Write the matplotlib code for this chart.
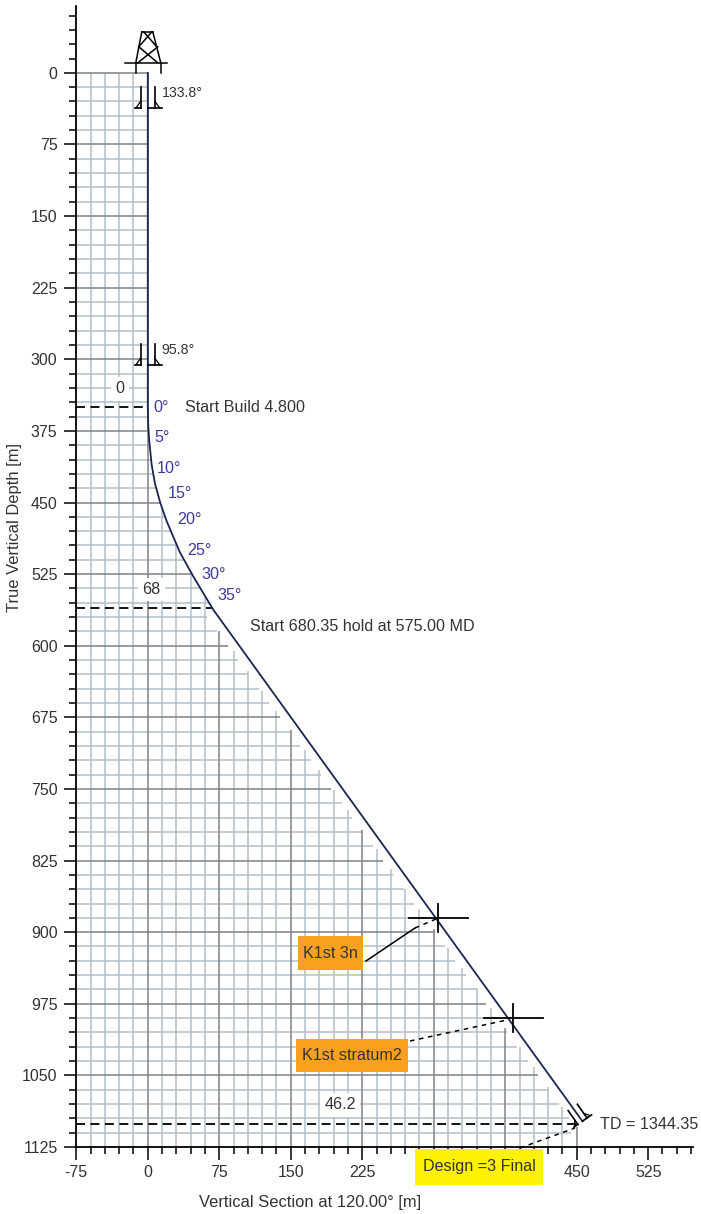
import numpy as np
import matplotlib
matplotlib.use('Agg')
import matplotlib.pyplot as plt
from matplotlib.patches import Rectangle
from matplotlib.transforms import Affine2D

plt.rcParams['font.family'] = ['Liberation Sans', 'DejaVu Sans']
plt.rcParams['axes.unicode_minus'] = False

# well path
path_x = [0, 0, 0.5, 1.5, 4, 7.5, 13, 19.6, 33.6, 47.5, 68.5, 456]
path_y = [0, 350, 370, 385, 410, 430, 450, 469, 502, 527, 562, 1098]

angle_labels = ['0°', '5°', '10°', '15°', '20°', '25°', '30°', '35°']
angle_x = [6, 7, 9, 21, 31, 41, 56, 73]
angle_y = [350, 382, 414, 441, 468, 500, 525, 547]

dash_y = [350, 560, 1101]
dash_x = [0, 68, 450]

casing_y = [37, 306]
casing_labels = ['133.8°', '95.8°']

target_x = [305, 383]
target_y = [885, 990]

x_major = [-75, 0, 75, 150, 225, 300, 375, 450, 525]
# 300 and 375 sit under the yellow label in the picture
x_labels = ['-75', '0', '75', '150', '225', '', '', '450', '525']
y_major = [0, 75, 150, 225, 300, 375, 450, 525, 600, 675, 750, 825, 900, 975, 1050, 1125]

TXT = '#333333'
MINOR = '#b4bec8'
MAJOR = '#7d8388'
NAVY = '#1c2550'
FS = 11.6
W, H = 701, 1214

fig = plt.figure(figsize=(W / 100, H / 100), dpi=100)
ax = fig.add_axes([76.3 / W, 1 - 1147 / H, (692.5 - 76.3) / W, (1147 - 6) / H])
ax.set_xlim(-75, 571.5)
ax.set_ylim(1125, -70)

# pixel space of the image, y going down
page = Affine2D().scale(1, -1).translate(0, H)


def offset_at(x, y, angle=0, scale=1.0):
    # pixels around a data point, y going down
    px, py = ax.transData.transform((x, y))
    return Affine2D().scale(scale, -scale).rotate_deg(-angle).translate(px, py)


def grid_end_x(y):
    if y <= path_y[1]:
        return 0
    if y <= path_y[-2]:
        return np.interp(y, path_y, path_x)
    return np.interp(y, path_y, path_x) - 12


def grid_start_y(x):
    if x <= 0:
        return 0
    if x <= path_x[-2]:
        return np.interp(x, path_x[1:], path_y[1:])
    return np.interp(x, path_x[1:], path_y[1:]) + 14


# grid stops short of the well path below the build section
for gx in np.arange(-60, 451, 15):
    major = gx % 75 == 0
    ax.plot([gx, gx], [grid_start_y(gx), 1125], color=MAJOR if major else MINOR,
            lw=1.1, zorder=1.2 if major else 1, solid_capstyle='butt')
for gy in np.arange(0, 1125, 15):
    major = gy % 75 == 0
    ax.plot([-75, grid_end_x(gy)], [gy, gy], color=MAJOR if major else MINOR,
            lw=1.1, zorder=1.2 if major else 1, solid_capstyle='butt')

for dy, dx in zip(dash_y, dash_x):
    ax.plot([-75, dx], [dy, dy], color='black', lw=1.3, dashes=(5, 3), zorder=2)

ax.plot(path_x, path_y, color=NAVY, lw=1.3, zorder=3)

for lab, ax_, ay_ in zip(angle_labels, angle_x, angle_y):
    ax.text(ax_, ay_, lab, color='#3c3c9c', fontsize=FS, ha='left', va='center', zorder=4)


def casing(x, y, angle=0, scale=1.0):
    t = offset_at(x, y, angle, scale)
    for sx in (-1, 1):
        ax.plot([sx * 7, sx * 7], [-21, 0], color='black', lw=1.2, transform=t, clip_on=False, zorder=4)
        ax.plot([0 if sx == 1 else sx * 7, sx * 14 if sx == 1 else sx * 13], [0, 0], color='black', lw=1.2,
                transform=t, clip_on=False, zorder=4)
        ax.plot([sx * 7, sx * 12], [-7, 0], color='black', lw=0.9, transform=t, clip_on=False, zorder=4)


for cy, lab in zip(casing_y, casing_labels):
    casing(0, cy)
    ax.annotate(lab, (0, cy), xytext=(14, 15), textcoords='offset pixels', fontsize=10.2,
                color=TXT, ha='left', va='center')

casing(path_x[-1], path_y[-1], angle=-35, scale=0.8)

# rig symbol above the well head
rig = offset_at(0, 0)
rig_lines = [
    ([-23, 19], [-10, -10]), ([-12, -12], [-10, 0]), ([13, 13], [-10, 0]),
    ([-12, -6], [-10, -41]), ([13, 5], [-10, -41]), ([-6, 5], [-41, -41]),
    ([-10, 10], [-10, -26]), ([10, -9], [-10, -26]), ([-9, 4], [-26, -41]),
    ([9, -4], [-26, -41]),
]
for lx, ly in rig_lines:
    ax.plot(lx, ly, color='black', lw=1.1, transform=rig, clip_on=False, zorder=4)

for tx, ty in zip(target_x, target_y):
    t = offset_at(tx, ty)
    ax.plot([-29, 30], [0, 0], color='black', lw=1.3, transform=t, zorder=4, clip_on=False)
    ax.plot([0, 0], [-14, 14], color='black', lw=1.3, transform=t, zorder=4, clip_on=False)


def white_label(x, y, text):
    ax.text(x, y, text, fontsize=FS, color=TXT, ha='center', va='center', zorder=2.5,
            bbox=dict(facecolor='white', edgecolor='none', pad=3))


white_label(-29, 331, '0')
white_label(4, 541, '68')
white_label(202, 1081, '46.2')

ax.text(39, 350, 'Start Build 4.800', fontsize=FS, color=TXT, ha='left', va='center', zorder=4)
ax.text(107, 580, 'Start 680.35 hold at 575.00 MD', fontsize=FS, color=TXT, ha='left', va='center', zorder=4)
ax.text(474, 1101, 'TD = 1344.35', fontsize=FS, color=TXT, ha='left', va='center', zorder=4, clip_on=False)

# leaders from the highlighted labels
ax.plot([366, 415], [961, 928], color='black', lw=1.1, transform=page, zorder=4)
ax.plot([415, 436], [928, 919], color='black', lw=1.1, dashes=(3, 3), transform=page, zorder=4)
ax.plot([410, 507], [1041, 1020], color='black', lw=1.1, dashes=(3, 3), transform=page, zorder=4)
ax.plot([520, 575], [1148, 1128], color='black', lw=1.1, dashes=(3, 3), transform=page, zorder=4, clip_on=False)


def tag(x0, y0, x1, y1, color, text):
    ax.add_patch(Rectangle((x0, y0), x1 - x0, y1 - y0, facecolor=color, edgecolor='none',
                           transform=page, clip_on=False, zorder=5))
    ax.text((x0 + x1) / 2, (y0 + y1) / 2, text, fontsize=FS, color=TXT, ha='center', va='center',
            transform=page, clip_on=False, zorder=6)


tag(298, 936, 363, 970, '#f9a11f', 'K1st 3n')
tag(296, 1039, 408, 1072, '#f9a11f', 'K1st stratum2')
tag(415, 1149, 543, 1185, '#fff200', 'Design =3 Final')

for side in ('top', 'right'):
    ax.spines[side].set_visible(False)
for side in ('left', 'bottom'):
    ax.spines[side].set_linewidth(1.3)

ax.set_xticks(x_major)
ax.set_xticklabels(x_labels)
ax.set_yticks(y_major)
ax.set_xticks(np.arange(-75, 571, 15), minor=True)
ax.set_yticks(np.arange(-60, 1126, 15), minor=True)
ax.tick_params(which='major', length=9, width=1.1, labelsize=11.5, labelcolor=TXT)
ax.tick_params(which='minor', length=5, width=1.1)
ax.tick_params(axis='x', which='major', pad=4)
ax.tick_params(axis='y', which='major', pad=4.5)

fig.text(15 / W, 1 - 527 / H, 'True Vertical Depth [m]', rotation=90, fontsize=11.9, color=TXT,
         ha='center', va='center')
fig.text(310 / W, 1 - 1203 / H, 'Vertical Section at 120.00° [m]', fontsize=11.9, color=TXT,
         ha='center', va='center')

fig.savefig('out.png', dpi=100)
